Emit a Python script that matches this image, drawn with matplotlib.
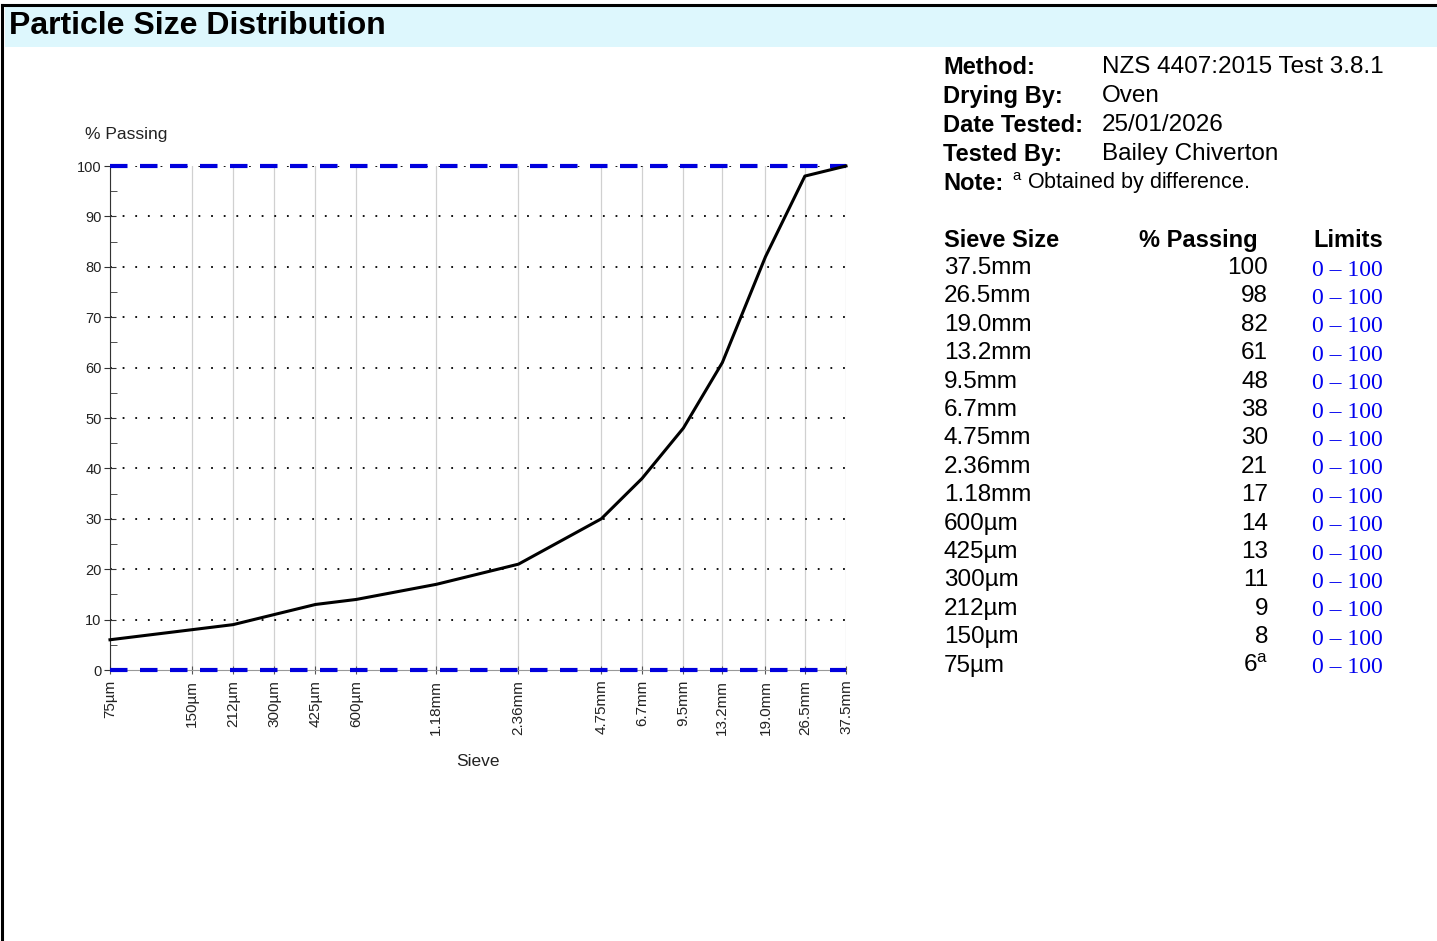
import matplotlib.pyplot as plt
from matplotlib.lines import Line2D
from matplotlib.patches import Rectangle
from matplotlib.ticker import FixedLocator, NullLocator

plt.rcParams['font.family'] = ['Liberation Sans', 'DejaVu Sans']
plt.rcParams['mathtext.default'] = 'regular'

# sieve data (mm) and % passing
sieve_mm = [0.075, 0.15, 0.212, 0.3, 0.425, 0.6, 1.18, 2.36, 4.75, 6.7, 9.5, 13.2, 19.0, 26.5, 37.5]
sieve_labels = ['75µm', '150µm', '212µm', '300µm', '425µm', '600µm', '1.18mm', '2.36mm',
                '4.75mm', '6.7mm', '9.5mm', '13.2mm', '19.0mm', '26.5mm', '37.5mm']
passing = [6, 8, 9, 11, 13, 14, 17, 21, 30, 38, 48, 61, 82, 98, 100]
limit_low = [0] * len(sieve_mm)
limit_high = [100] * len(sieve_mm)

info_labels = ['Method:', 'Drying By:', 'Date Tested:', 'Tested By:', 'Note:']
info_values = ['NZS 4407:2015 Test 3.8.1', 'Oven', '25/01/2026', 'Bailey Chiverton', '']

W, H = 1437, 941
fig = plt.figure(figsize=(W / 100, H / 100), dpi=100)

def fx(px):
    return px / W

def fy(py):
    return 1 - py / H

# page frame + title bar
fig.add_artist(Rectangle((fx(5), fy(47)), fx(1437 - 5), 40 / H, transform=fig.transFigure,
                         facecolor='#ddf7fd', edgecolor='none'))
fig.add_artist(Line2D([fx(2), fx(2)], [0, fy(5)], transform=fig.transFigure, color='black', lw=2.2))
fig.add_artist(Line2D([fx(2), 1], [fy(5), fy(5)], transform=fig.transFigure, color='black', lw=2.2))
fig.text(fx(9), fy(26), 'Particle Size Distribution', fontsize=23, fontweight='bold',
         va='center', ha='left')

# chart
ax = fig.add_axes([fx(110), fy(670), fx(846 - 110), (670 - 166) / H])
ax.set_xscale('log')
ax.set_xlim(sieve_mm[0], sieve_mm[-1])
ax.set_ylim(0, 100)

for s in sieve_mm:
    ax.axvline(s, color='#d0d0d0', lw=0.9, zorder=1)
for yv in range(10, 101, 10):
    ax.axhline(yv, color='black', lw=1.3, linestyle=(0, (1, 6)), zorder=1)

ax.plot(sieve_mm, limit_high, color='#0000dd', lw=3, linestyle=(0, (4.2, 3.0)),
        zorder=3, clip_on=False)
ax.plot(sieve_mm, limit_low, color='#0000dd', lw=3, linestyle=(0, (4.2, 3.0)),
        zorder=3, clip_on=False)
ax.plot(sieve_mm, passing, color='black', lw=2.2, zorder=4, clip_on=False)

ax.spines['top'].set_visible(False)
ax.spines['right'].set_visible(False)
ax.spines['bottom'].set_color('#999999')
ax.spines['left'].set_color('#333333')

ax.xaxis.set_major_locator(FixedLocator(sieve_mm))
ax.xaxis.set_minor_locator(NullLocator())
ax.set_xticklabels(sieve_labels, rotation=90, fontsize=11, color='#222222')
ax.tick_params(axis='x', direction='inout', length=6, color='#555555', pad=4)

ax.set_yticks(range(0, 101, 10))
ax.set_yticks(range(5, 100, 10), minor=True)
ax.tick_params(axis='y', which='major', direction='inout', length=8, labelsize=10.5, pad=2,
               color='#333333', labelcolor='#222222')
ax.tick_params(axis='y', which='minor', direction='in', length=5, color='#333333')

fig.text(fx(85), fy(135), '% Passing', fontsize=12.5, color='#222222', va='center')
fig.text(fx(478), fy(762), 'Sieve', fontsize=12.5, color='#222222', va='center', ha='center')

# info block
for i, (lab, val) in enumerate(zip(info_labels, info_values)):
    y = fy(67 + i * 29)
    fig.text(fx(943), y, lab, fontsize=17, fontweight='bold', va='center')
    if val:
        fig.text(fx(1102), y, val, fontsize=17.5, va='center')
fig.text(fx(1012), fy(183), '$^{a}$ Obtained by difference.', fontsize=15.5, va='center')

# table
fig.text(fx(944), fy(240), 'Sieve Size', fontsize=17, fontweight='bold', va='center')
fig.text(fx(1258), fy(240), '% Passing', fontsize=17, fontweight='bold', va='center', ha='right')
fig.text(fx(1383), fy(240), 'Limits', fontsize=17, fontweight='bold', va='center', ha='right')
rows = list(zip(sieve_labels, passing, limit_low, limit_high))[::-1]
for i, (lab, p, lo, hi) in enumerate(rows):
    y = fy(268 + i * 28.4)
    fig.text(fx(944), y, lab, fontsize=17.5, va='center')
    if i == len(rows) - 1:
        fig.text(fx(1268), y, f'{p}$^{{a}}$', fontsize=17.5, va='center', ha='right')
    else:
        fig.text(fx(1268), y, str(p), fontsize=17.5, va='center', ha='right')
    fig.text(fx(1383), y + 2 / H * -1, f'{lo} – {hi}', fontsize=17, va='center', ha='right',
             color='#0000ee', family='Liberation Serif')

fig.savefig('out.png', dpi=100)
